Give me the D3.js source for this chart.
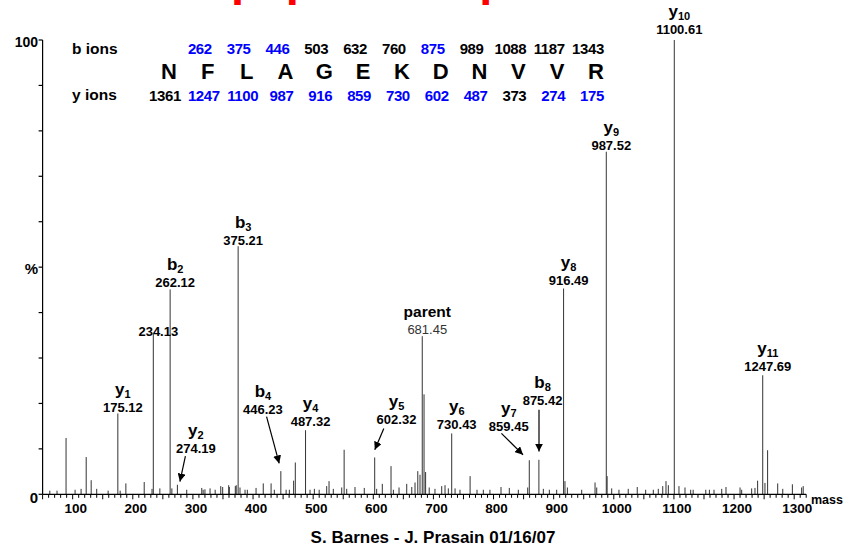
<!DOCTYPE html>
<html>
<head>
<meta charset="utf-8">
<script src="https://cdn.jsdelivr.net/npm/d3@7"></script>
<style>
body { margin: 0; background: #fff; }
text { font-family: "Liberation Sans", Arial, sans-serif; }
</style>
</head>
<body>
<script>
// peptide sequence and fragment ions
var sequence = ["N", "F", "L", "A", "G", "E", "K", "D", "N", "V", "V", "R"];
var bIons = [262, 375, 446, 503, 632, 760, 875, 989, 1088, 1187, 1343];   // b2 .. b12
var bSeen = [1, 1, 1, 0, 0, 0, 1, 0, 0, 0, 0];
var yIons = [1361, 1247, 1100, 987, 916, 859, 730, 602, 487, 373, 274, 175];
var ySeen = [0, 1, 1, 1, 1, 1, 1, 1, 1, 0, 1, 1];

// spectrum peaks: [mass, % intensity]
var peaks = [
  [62, 0.8], [74, 0.8], [89, 12.4], [104, 1.0], [114, 1.2], [122.5, 8.2], [130.8, 3.1], [140, 1.2],
  [159, 0.8], [175.12, 17.8], [179, 0.8], [188.5, 2.4], [219, 2.7], [232, 1.2], [234.13, 35.4],
  [245, 1.3], [262.12, 45.1], [265, 1.3], [274.19, 2.1], [289.7, 1.0], [314.7, 1.4], [317, 1.0],
  [320, 1.1], [328.5, 1.3], [337, 1.0], [346.3, 1.8], [349.5, 1.6], [359.5, 2.0], [360.6, 1.6],
  [370.5, 1.8], [372, 2.0], [375.21, 54.6], [378.3, 1.5], [386.7, 1.0], [390.5, 1.0], [405, 1.4],
  [417, 2.4], [430, 2.4], [435.4, 1.0], [446.23, 5.1], [455, 1.0], [460.4, 1.0], [467.5, 3.0],
  [470.3, 7.0], [487.32, 14.1], [494.8, 1.0], [502, 1.2], [510, 1.0], [522.5, 1.8], [526.4, 2.9],
  [533.5, 1.2], [547.5, 1.5], [551.5, 9.8], [555.8, 1.2], [569.6, 1.6], [585, 1.4], [602.32, 8.1],
  [605.6, 1.2], [615, 2.3], [629.5, 6.2], [633.4, 1.0], [642.8, 1.5], [655.6, 2.3], [664, 1.6],
  [669.4, 2.6], [674, 5.1], [677.7, 4.3], [681.45, 34.8], [684.4, 22], [687, 4.9], [693, 1.5],
  [702.6, 1.2], [713.8, 1.8], [719.3, 2.0], [724.8, 1.3], [730.43, 13.4], [736, 1.3], [744.2, 1.0],
  [761, 4.0], [772.5, 1.0], [783, 1.0], [794, 1.0], [812.4, 1.6], [826.2, 1.4], [841.2, 1.0],
  [856.8, 1.5], [859.45, 7.5], [875.42, 7.6], [882.8, 1.2], [892.8, 1.0], [905, 1.0],
  [916.49, 45.3], [918.8, 2.9], [922.8, 1.5], [946.6, 1.0], [968.8, 2.6], [971.6, 1.5],
  [987.52, 75.4], [988.9, 4.0], [996.5, 1.3], [1008.6, 1.0], [1024, 1.2], [1039, 1.6], [1053, 1.0],
  [1065.7, 1.0], [1074, 1.2], [1081.4, 1.8], [1086.8, 2.9], [1090.7, 2.0], [1100.61, 100],
  [1108.4, 1.8], [1118.4, 1.5], [1127.9, 1.0], [1132, 1.0], [1153, 1.0], [1159, 1.0], [1166.7, 1.0],
  [1179.5, 1.2], [1186.6, 1.6], [1210, 1.5], [1212.7, 1.0], [1229.3, 1.3], [1234.8, 1.4],
  [1239.2, 3.0], [1247.69, 26.2], [1251.4, 2.5], [1255.8, 9.7], [1272.6, 2.4], [1281, 1.2],
  [1297, 2.2], [1312.4, 1.5], [1315, 1.8]
];

// labels sitting on top of a peak: mass, ion name, subscript, label level (%)
var topLabels = [
  {mass: 175.12, ion: "y", sub: "1", at: 18.2},
  {mass: 234.13, ion: "", sub: "", at: 34.8},
  {mass: 262.12, ion: "b", sub: "2", at: 45.7},
  {mass: 375.21, ion: "b", sub: "3", at: 54.9},
  {mass: 487.32, ion: "y", sub: "4", at: 15.0},
  {mass: 681.45, ion: "parent", sub: "", at: 35.2},
  {mass: 730.43, ion: "y", sub: "6", at: 14.3},
  {mass: 916.49, ion: "y", sub: "8", at: 46.0},
  {mass: 987.52, ion: "y", sub: "9", at: 75.8},
  {mass: 1100.61, ion: "y", sub: "10", at: 101.3},
  {mass: 1247.69, ion: "y", sub: "11", at: 27.2}
];

// labels with arrows: label centre (mass, %), arrow from -> to
var arrowLabels = [
  {mass: 274.19, ion: "y", sub: "2", lx: 305, at: 9.2, from: [287.5, 8.4], to: [278.4, 2.8]},
  {mass: 446.23, ion: "b", sub: "4", lx: 416.4, at: 17.7, from: [422.5, 17.1], to: [443.5, 6.8]},
  {mass: 602.32, ion: "y", sub: "5", lx: 638.6, at: 15.5, from: [617.5, 14.5], to: [602.5, 9.8]},
  {mass: 859.45, ion: "y", sub: "7", lx: 825.3, at: 14.0, from: [813.1, 13.4], to: [849, 8.7]},
  {mass: 875.42, ion: "b", sub: "8", lx: 881.5, at: 19.7, from: [875.6, 18.6], to: [875.6, 9.4]}
];

var xTicks = [100, 200, 300, 400, 500, 600, 700, 800, 900, 1000, 1100, 1200, 1300];

var width = 843, height = 550;

var svg = d3.select("body").append("svg")
    .attr("width", width)
    .attr("height", height);

var x = d3.scaleLinear().domain([50, 1320]).range([42.6, 806.2]);
var y = d3.scaleLinear().domain([0, 100]).range([494.3, 40]);

svg.append("defs").append("marker")
    .attr("id", "arrow")
    .attr("viewBox", "0 0 10 10")
    .attr("refX", 10).attr("refY", 5)
    .attr("markerWidth", 8).attr("markerHeight", 8)
    .attr("markerUnits", "userSpaceOnUse")
    .attr("orient", "auto")
    .append("path")
    .attr("d", "M0,0 L10,5 L0,10 z")
    .attr("fill", "#000");

// red title (cut at the top of the picture)
svg.append("text")
    .text("peptide sequence")
    .attr("x", 231)
    .attr("y", -5)
    .attr("fill", "#ff0000")
    .style("font-size", "47px")
    .style("font-weight", "bold");

// peaks
svg.append("g").selectAll("line")
    .data(peaks)
    .enter().append("line")
    .attr("x1", function(d){ return x(d[0]); })
    .attr("x2", function(d){ return x(d[0]); })
    .attr("y1", y(0))
    .attr("y2", function(d){ return y(d[1]); })
    .attr("stroke", "#333")
    .attr("stroke-width", 1);

// axes
var axis = svg.append("g").attr("stroke", "#000").attr("stroke-width", 1.2);
axis.append("line").attr("x1", x(50)).attr("x2", x(50)).attr("y1", y(100)).attr("y2", y(0));
axis.append("line").attr("x1", x(50)).attr("x2", x(1320)).attr("y1", y(0)).attr("y2", y(0));

axis.selectAll(".ytick").data(d3.range(0, 101, 10)).enter().append("line")
    .attr("x1", x(50) - 4).attr("x2", x(50))
    .attr("y1", function(d){ return y(d); })
    .attr("y2", function(d){ return y(d); });

axis.selectAll(".xtick").data(d3.range(50, 1321, 10)).enter().append("line")
    .attr("x1", function(d){ return x(d); })
    .attr("x2", function(d){ return x(d); })
    .attr("y1", y(0))
    .attr("y2", function(d){ return y(0) + (d % 50 === 0 ? 5 : 3.5); })
    .attr("stroke-width", 1);

svg.selectAll(".xlab").data(xTicks).enter().append("text")
    .text(function(d){ return d; })
    .attr("x", function(d){ return x(d) + 3; })
    .attr("y", 513)
    .attr("text-anchor", "middle")
    .style("font-size", "13.5px")
    .style("font-weight", "bold");

svg.append("text").text("mass")
    .attr("x", 811).attr("y", 504)
    .style("font-size", "12.5px").style("font-weight", "bold");

[[100, "100"], [50, "%"], [0, "0"]].forEach(function(t){
    svg.append("text").text(t[1])
        .attr("x", 38).attr("y", y(t[0]) + (t[0] === 0 ? 9 : 7))
        .attr("text-anchor", "end")
        .style("font-size", t[0] === 100 ? "14px" : "15px")
        .style("font-weight", "bold");
});

// ion labels
function ionLabel(cx, base, d){
    if (d.ion) {
        var t = svg.append("text")
            .attr("x", cx).attr("y", base - 17)
            .attr("text-anchor", "middle")
            .style("font-weight", "bold");
        t.append("tspan").text(d.ion).style("font-size", d.ion === "parent" ? "15.5px" : "17px");
        if (d.sub) t.append("tspan").text(d.sub).attr("dy", 3).style("font-size", "11px");
    }
    svg.append("text")
        .text(d.mass.toFixed(2))
        .attr("x", cx).attr("y", base)
        .attr("text-anchor", "middle")
        .attr("fill", d.ion === "parent" ? "#333" : "#000")
        .style("font-size", "13px")
        .style("font-weight", d.ion === "parent" ? "normal" : "bold");
}

topLabels.forEach(function(d){ ionLabel(x(d.mass) + 5, y(d.at), d); });

arrowLabels.forEach(function(d){
    ionLabel(x(d.lx), y(d.at), d);
    svg.append("line")
        .attr("x1", x(d.from[0])).attr("y1", y(d.from[1]))
        .attr("x2", x(d.to[0])).attr("y2", y(d.to[1]))
        .attr("stroke", "#000").attr("stroke-width", 1.2)
        .attr("marker-end", "url(#arrow)");
});

// fragment table
var col = d3.scalePoint().domain(d3.range(sequence.length)).range([169, 596]);

svg.append("text").text("b ions").attr("x", 72).attr("y", 54)
    .style("font-size", "15.5px").style("font-weight", "bold");
svg.append("text").text("y ions").attr("x", 72).attr("y", 100)
    .style("font-size", "15.5px").style("font-weight", "bold");

svg.selectAll(".aa").data(sequence).enter().append("text")
    .text(function(d){ return d; })
    .attr("x", function(d, i){ return col(i); })
    .attr("y", 79)
    .attr("text-anchor", "middle")
    .style("font-size", "22px")
    .style("font-weight", "bold");

svg.selectAll(".bion").data(bIons).enter().append("text")
    .text(function(d){ return d; })
    .attr("x", function(d, i){ return col(i + 1) - 8; })
    .attr("y", 54)
    .attr("text-anchor", "middle")
    .attr("fill", function(d, i){ return bSeen[i] ? "#0000ff" : "#000"; })
    .style("font-size", "15px")
    .style("letter-spacing", "-0.4px")
    .style("font-weight", "bold");

svg.selectAll(".yion").data(yIons).enter().append("text")
    .text(function(d){ return d; })
    .attr("x", function(d, i){ return col(i) - 4; })
    .attr("y", 101)
    .attr("text-anchor", "middle")
    .attr("fill", function(d, i){ return ySeen[i] ? "#0000ff" : "#000"; })
    .style("font-size", "15px")
    .style("letter-spacing", "-0.4px")
    .style("font-weight", "bold");

// credit
svg.append("text").text("S. Barnes - J. Prasain 01/16/07")
    .attr("x", 433).attr("y", 543)
    .attr("text-anchor", "middle")
    .style("font-size", "17px")
    .style("font-weight", "bold");
</script>
</body>
</html>
